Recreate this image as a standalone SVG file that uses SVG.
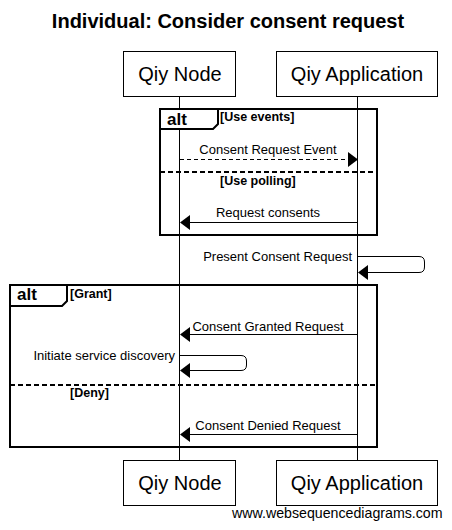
<svg xmlns="http://www.w3.org/2000/svg" width="452" height="530" viewBox="0 0 452 530">
<style>
text{font-family:"Liberation Sans",Arial,sans-serif;fill:#000}
.title{font-size:20px;font-weight:bold}
.part{font-size:20px}
.msg{font-size:13px}
.guard{font-size:12.5px;font-weight:bold}
.alt{font-size:17px;font-weight:bold}
.box{fill:#fff;stroke:#000;stroke-width:1}
.life{stroke:#000;stroke-width:1}
.frame{fill:none;stroke:#000;stroke-width:2}
.tab{fill:#fff;stroke:#000;stroke-width:2}
.div{stroke:#000;stroke-width:2;stroke-dasharray:5,3}
.line{fill:none;stroke:#000;stroke-width:1}
.dash{stroke-dasharray:4,3}
.head{fill:#000}
</style>
<rect width="452" height="530" fill="#fff"/>
<text class="title" x="228" y="28" text-anchor="middle">Individual: Consider consent request</text>
<g id="lifelines">
<line class="life" x1="179.5" y1="96" x2="179.5" y2="460"/>
<line class="life" x1="357.5" y1="96" x2="357.5" y2="460"/>
</g>
<g id="alt1">
<rect class="frame" x="160" y="109" width="217" height="126"/>
<polygon class="tab" points="160,109 218,109 218,124 213,129 160,129"/>
<text class="alt" x="167" y="125">alt</text>
<text class="guard" x="220" y="121">[Use events]</text>
<line class="div" x1="160" y1="172" x2="377" y2="172"/>
<text class="guard" x="220" y="185">[Use polling]</text>
</g>
<g id="alt2">
<rect class="frame" x="10" y="285" width="367" height="162"/>
<polygon class="tab" points="10,285 67,285 67,301 62,306 10,306"/>
<text class="alt" x="17" y="300">alt</text>
<text class="guard" x="70" y="298">[Grant]</text>
<line class="div" x1="10" y1="385" x2="377" y2="385"/>
<text class="guard" x="70" y="397">[Deny]</text>
</g>
<g id="participants">
<g id="node-top"><rect class="box" x="123.5" y="51.5" width="112" height="45"/><text class="part" x="180" y="81" text-anchor="middle">Qiy Node</text></g>
<g id="app-top"><rect class="box" x="276.5" y="51.5" width="161" height="45"/><text class="part" x="357" y="81" text-anchor="middle">Qiy Application</text></g>
<g id="node-bottom"><rect class="box" x="123.5" y="460.5" width="112" height="45"/><text class="part" x="180" y="490" text-anchor="middle">Qiy Node</text></g>
<g id="app-bottom"><rect class="box" x="276.5" y="460.5" width="161" height="45"/><text class="part" x="357" y="490" text-anchor="middle">Qiy Application</text></g>
</g>
<g id="connectors">
<line class="line dash" x1="180" y1="159.5" x2="349" y2="159.5"/>
<polygon class="head" points="358,159.5 348,152 348,167"/>
<text class="msg" x="268" y="154" text-anchor="middle">Consent Request Event</text>

<line class="line" x1="357" y1="222.5" x2="188" y2="222.5"/>
<polygon class="head" points="180,222.5 190,215 190,230"/>
<text class="msg" x="268" y="217" text-anchor="middle">Request consents</text>

<path class="line" d="M357,256.5 H419 Q424.5,256.5 424.5,262 V267 Q424.5,272.5 419,272.5 H366"/>
<polygon class="head" points="358,272.5 368,265 368,280"/>
<text class="msg" x="352" y="261" text-anchor="end">Present Consent Request</text>

<line class="line" x1="357" y1="334.5" x2="188" y2="334.5"/>
<polygon class="head" points="180,334.5 190,327 190,342"/>
<text class="msg" x="268" y="331" text-anchor="middle">Consent Granted Request</text>

<path class="line" d="M180,355.5 H241 Q246.5,355.5 246.5,361 V365 Q246.5,370.5 241,370.5 H188"/>
<polygon class="head" points="180,370.5 190,363 190,378"/>
<text class="msg" x="175" y="360" text-anchor="end">Initiate service discovery</text>

<line class="line" x1="357" y1="434.5" x2="188" y2="434.5"/>
<polygon class="head" points="180,434.5 190,427 190,442"/>
<text class="msg" x="268" y="430" text-anchor="middle">Consent Denied Request</text>
</g>
<text x="232" y="518" style="font-size:14.2px">www.websequencediagrams.com</text>
</svg>
